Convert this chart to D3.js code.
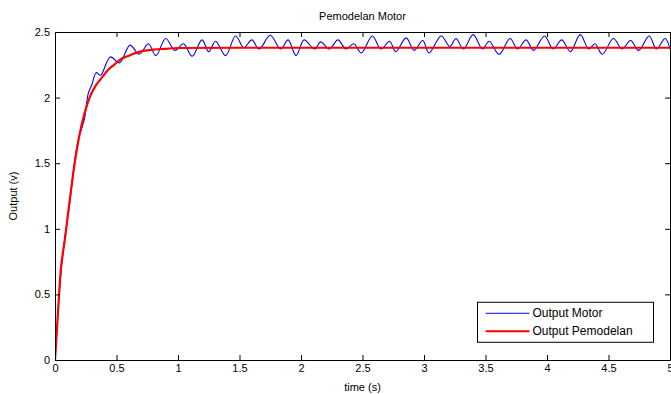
<!DOCTYPE html>
<html>
<head>
<meta charset="utf-8">
<script src="https://cdn.jsdelivr.net/npm/d3@7"></script>
<style>
  body { margin: 0; background: #fff; }
  svg { display: block; font-family: "Liberation Sans", Arial, sans-serif; }
  .axis path, .axis line { stroke: #000; }
  .axis text { font-size: 11px; fill: #000; }
</style>
</head>
<body>
<svg id="chart" width="671" height="394"></svg>
<script>
// measured motor output, [time (s), output (v)]
const motorData = [
  [0, 0], [0.02, 0.3], [0.045, 0.64], [0.08, 0.93], [0.12, 1.2], [0.16, 1.52],
  [0.19, 1.68], [0.215, 1.76], [0.24, 1.84], [0.27, 2.03], [0.3, 2.1],
  [0.335, 2.19], [0.37, 2.17], [0.45, 2.31], [0.525, 2.265], [0.61, 2.4],
  [0.685, 2.33], [0.76, 2.41], [0.82, 2.32], [0.9, 2.45], [0.975, 2.36],
  [1.045, 2.41], [1.115, 2.315], [1.195, 2.44], [1.25, 2.35], [1.305, 2.43],
  [1.387, 2.32], [1.468, 2.47], [1.536, 2.38], [1.6, 2.44], [1.66, 2.37],
  [1.75, 2.475], [1.835, 2.37], [1.895, 2.44], [1.96, 2.32], [2.025, 2.44],
  [2.11, 2.37], [2.16, 2.425], [2.23, 2.37], [2.3, 2.44], [2.365, 2.37],
  [2.43, 2.41], [2.49, 2.34], [2.58, 2.47], [2.65, 2.37], [2.72, 2.43],
  [2.77, 2.35], [2.855, 2.455], [2.92, 2.36], [2.99, 2.435], [3.04, 2.34],
  [3.14, 2.47], [3.21, 2.39], [3.26, 2.45], [3.32, 2.37], [3.4, 2.48],
  [3.475, 2.37], [3.53, 2.43], [3.61, 2.33], [3.7, 2.45], [3.76, 2.37],
  [3.83, 2.44], [3.89, 2.36], [3.98, 2.47], [4.05, 2.37], [4.12, 2.44],
  [4.19, 2.35], [4.27, 2.48], [4.34, 2.37], [4.39, 2.41], [4.45, 2.33],
  [4.54, 2.45], [4.61, 2.37], [4.68, 2.435], [4.745, 2.36], [4.83, 2.47],
  [4.89, 2.37], [4.96, 2.45], [5.0, 2.37]
];

// model output, [time (s), output (v)]
const modelData = [
  [0, 0], [0.02, 0.3], [0.045, 0.66], [0.08, 0.92], [0.12, 1.22], [0.16, 1.5],
  [0.2, 1.72], [0.24, 1.88], [0.285, 2.01], [0.33, 2.09], [0.38, 2.15],
  [0.43, 2.21], [0.48, 2.25], [0.53, 2.29], [0.59, 2.315], [0.69, 2.35],
  [0.8, 2.365], [0.9, 2.372], [1.0, 2.378], [1.5, 2.38], [5.0, 2.38]
];

const xTicks = [0, 0.5, 1, 1.5, 2, 2.5, 3, 3.5, 4, 4.5, 5];
const yTicks = [0, 0.5, 1, 1.5, 2, 2.5];
const legendLabels = ["Output Motor", "Output Pemodelan"];
const legendColors = ["#0000ff", "#ff0000"];

const svg = d3.select("#chart"),
  margin = { top: 32, right: 1, bottom: 34, left: 55 },
  width = 671 - margin.left - margin.right,
  height = 394 - margin.top - margin.bottom,
  g = svg.append("g").attr("transform", `translate(${margin.left},${margin.top})`);

const x = d3.scaleLinear().domain([0, 5]).range([0, width]);
const y = d3.scaleLinear().domain([0, 2.5]).range([height, 0]);

g.append("rect")
  .attr("width", width)
  .attr("height", height)
  .attr("fill", "#fff");

const line = d3
  .line()
  .curve(d3.curveCatmullRom.alpha(0.5))
  .x((d) => x(d[0]))
  .y((d) => y(d[1]));

g.append("defs").append("clipPath").attr("id", "plot-clip")
  .append("rect").attr("width", width).attr("height", height);

g.append("path")
  .datum(motorData)
  .attr("clip-path", "url(#plot-clip)")
  .attr("fill", "none")
  .attr("stroke", legendColors[0])
  .attr("stroke-width", 1.1)
  .attr("d", line);

g.append("path")
  .datum(modelData)
  .attr("clip-path", "url(#plot-clip)")
  .attr("fill", "none")
  .attr("stroke", legendColors[1])
  .attr("stroke-width", 2.2)
  .attr("d", d3.line().curve(d3.curveMonotoneX).x((d) => x(d[0])).y((d) => y(d[1])));

// axes, ticks inward like matlab
g.append("g")
  .attr("class", "axis x")
  .attr("transform", `translate(0,${height})`)
  .call(d3.axisBottom(x).tickValues(xTicks).tickFormat((d) => String(d))
    .tickSizeInner(-5).tickSizeOuter(0).tickPadding(4));

g.append("g")
  .attr("class", "axis x-top")
  .call(d3.axisTop(x).tickValues(xTicks).tickFormat("")
    .tickSizeInner(-5).tickSizeOuter(0));

g.append("g")
  .attr("class", "axis y")
  .call(d3.axisLeft(y).tickValues(yTicks).tickFormat((d) => String(d))
    .tickSizeInner(-5).tickSizeOuter(0).tickPadding(5));

g.append("g")
  .attr("class", "axis y-right")
  .attr("transform", `translate(${width},0)`)
  .call(d3.axisRight(y).tickValues(yTicks).tickFormat("")
    .tickSizeInner(-5).tickSizeOuter(0));

// title and labels
svg.append("text")
  .attr("x", margin.left + width / 2)
  .attr("y", 20)
  .attr("text-anchor", "middle")
  .attr("font-size", 11)
  .text("Pemodelan Motor");

svg.append("text")
  .attr("x", margin.left + width / 2)
  .attr("y", 391)
  .attr("text-anchor", "middle")
  .attr("font-size", 11)
  .text("time (s)");

svg.append("text")
  .attr("transform", `translate(17,${margin.top + height / 2}) rotate(-90)`)
  .attr("text-anchor", "middle")
  .attr("font-size", 11)
  .text("Output (v)");

// legend
const legend = g.append("g").attr("transform", `translate(${x(3.435)},${y(0.44)})`);

legend.append("rect")
  .attr("width", 176)
  .attr("height", 40)
  .attr("fill", "#fff")
  .attr("stroke", "#000");

const item = legend.selectAll(".item")
  .data(legendLabels)
  .enter()
  .append("g")
  .attr("class", "item")
  .attr("transform", (d, i) => `translate(8,${11 + i * 18})`);

item.append("line")
  .attr("x1", 0)
  .attr("x2", 44)
  .attr("stroke", (d, i) => legendColors[i])
  .attr("stroke-width", (d, i) => (i === 0 ? 1 : 2.2));

item.append("text")
  .attr("x", 47)
  .attr("y", 4)
  .attr("font-size", 12)
  .text((d) => d);
</script>
</body>
</html>
